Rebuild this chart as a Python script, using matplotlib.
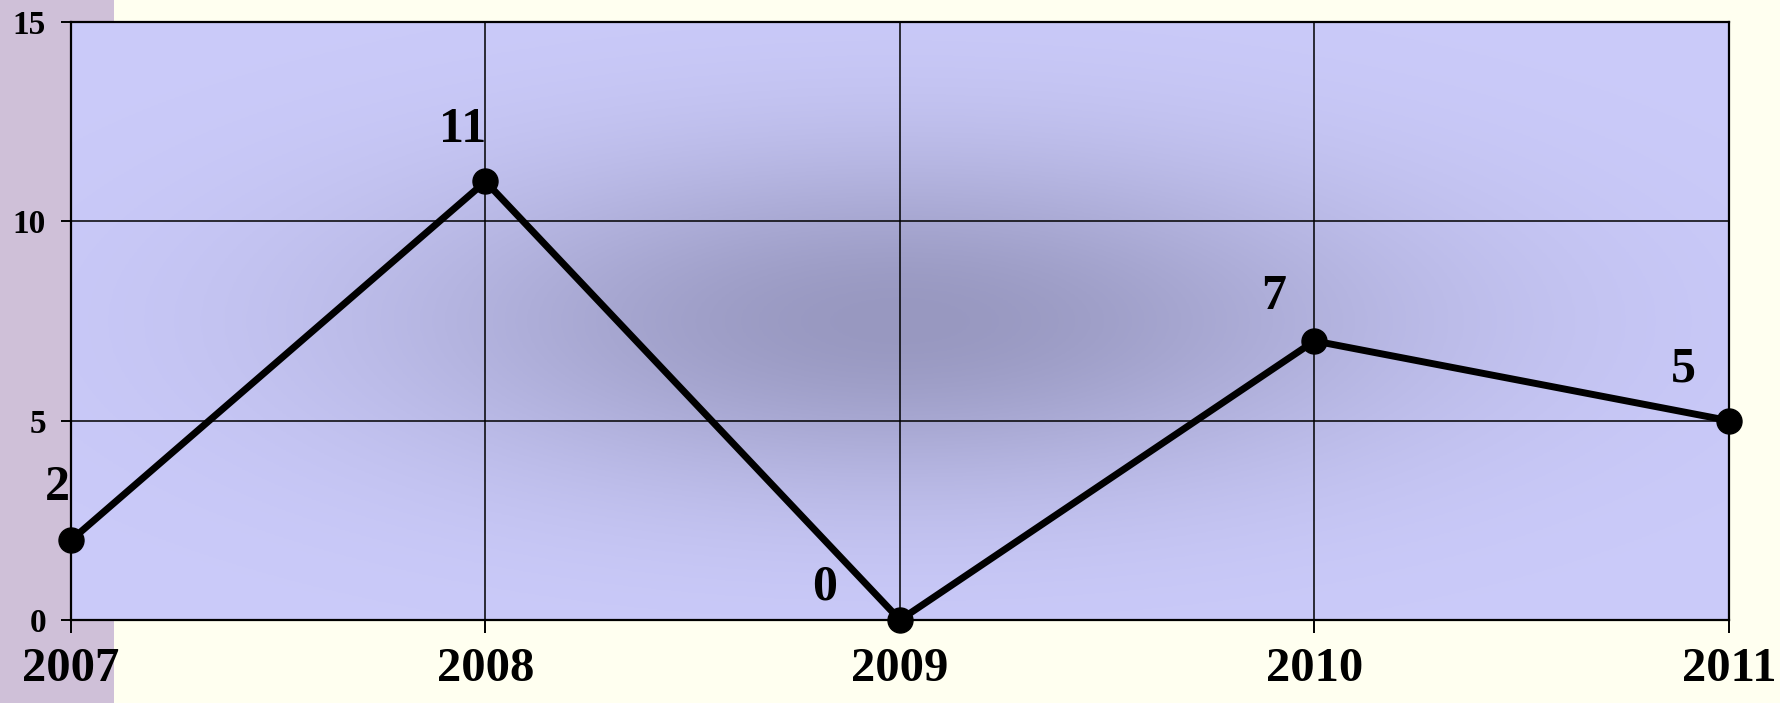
import numpy as np
import matplotlib.pyplot as plt
from matplotlib.patches import Rectangle

years = ["2007", "2008", "2009", "2010", "2011"]
values = [2, 11, 0, 7, 5]
y_ticks = [0, 5, 10, 15]
# label offsets in pixels (dx, dy) from each point
label_offsets = [(-14, 52), (-23, 51), (-75, 33), (-41, 44), (-46, 51)]

plt.rcParams['font.family'] = ['Liberation Serif', 'DejaVu Serif']
plt.rcParams['font.weight'] = 'bold'

fig = plt.figure(figsize=(17.81, 7.03), dpi=100, facecolor='#fffff0')
# purple strip on the left of the slide
fig.patches.append(Rectangle((0, 0), 114 / 1781, 1, transform=fig.transFigure,
                             facecolor='#cfc0d8', edgecolor='none', zorder=0))

ax = fig.add_axes([71 / 1781, 83 / 703, 1658 / 1781, 598 / 703])
ax.set_zorder(2)
x = np.arange(len(years))

# shaded plot area: dark soft blob in the middle
gx, gy = np.meshgrid(np.linspace(0, 1, 400), np.linspace(0, 1, 200))
d = np.exp(-((gx - 0.5) / 0.3) ** 2) * np.exp(-((gy - 0.5) / 0.28) ** 2)
edge = np.array([203, 203, 250]) / 255
center = np.array([152, 152, 192]) / 255
img = edge[None, None, :] * (1 - d[..., None]) + center[None, None, :] * d[..., None]
ax.imshow(img, extent=[x[0], x[-1], 0, 15], origin='lower', aspect='auto', zorder=0)

ax.set_xlim(x[0], x[-1])
ax.set_ylim(0, 15)
ax.set_xticks(x)
ax.set_xticklabels(years, fontsize=35, fontweight='bold')
ax.set_yticks(y_ticks)
ax.set_yticklabels([str(v) for v in y_ticks], fontsize=24, fontweight='bold')
ax.tick_params(axis='x', direction='out', length=9.5, width=1.4, pad=10, color='black')
ax.tick_params(axis='y', direction='out', length=7, width=1.4, pad=11, color='black')
for s in ax.spines.values():
    s.set_linewidth(1.6)
    s.set_color('black')
ax.grid(True, color='black', linewidth=1.1)
ax.set_axisbelow(False)

ax.plot(x, values, color='black', linewidth=5, marker='o', markersize=18,
        clip_on=False, zorder=5)

for xi, v, (dx, dy) in zip(x, values, label_offsets):
    ax.annotate(str(v), (xi, v), xytext=(dx, dy), textcoords='offset pixels',
                ha='center', va='center', fontsize=36, fontweight='bold', zorder=6)

fig.savefig('out.png', dpi=100, facecolor=fig.get_facecolor())
